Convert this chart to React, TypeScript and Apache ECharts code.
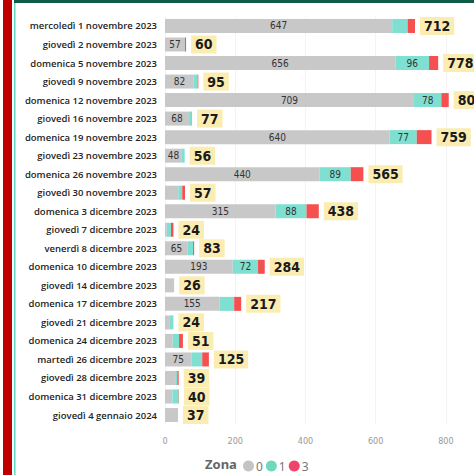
import React, { useEffect, useRef } from "react";
import * as echarts from "echarts";

const categories = [
  "mercoledì 1 novembre 2023",
  "giovedì 2 novembre 2023",
  "domenica 5 novembre 2023",
  "giovedì 9 novembre 2023",
  "domenica 12 novembre 2023",
  "giovedì 16 novembre 2023",
  "domenica 19 novembre 2023",
  "giovedì 23 novembre 2023",
  "domenica 26 novembre 2023",
  "giovedì 30 novembre 2023",
  "domenica 3 dicembre 2023",
  "giovedì 7 dicembre 2023",
  "venerdì 8 dicembre 2023",
  "domenica 10 dicembre 2023",
  "giovedì 14 dicembre 2023",
  "domenica 17 dicembre 2023",
  "giovedì 21 dicembre 2023",
  "domenica 24 dicembre 2023",
  "martedì 26 dicembre 2023",
  "giovedì 28 dicembre 2023",
  "domenica 31 dicembre 2023",
  "giovedì 4 gennaio 2024",
];
const zone0 = [647, 57, 656, 82, 709, 68, 640, 48, 440, 38, 315, 5, 65, 193, 26, 155, 12, 22, 75, 29, 21, 37];
const zone1 = [44, 0, 96, 11, 78, 8, 77, 8, 89, 11, 88, 12, 15, 72, 0, 42, 12, 18, 31, 6, 18, 0];
const zone3 = [21, 3, 26, 2, 21, 1, 42, 0, 36, 8, 35, 7, 3, 19, 0, 20, 0, 11, 19, 4, 1, 0];
const totals = [712, 60, 778, 95, 808, 77, 759, 56, 565, 57, 438, 24, 83, 284, 26, 217, 24, 51, 125, 39, 40, 37];
const xTicks = [0, 200, 400, 600, 800];
const seriesNames = ["0", "1", "3"];

export default function App() {
  const ref = useRef<HTMLDivElement>(null);
  useEffect(() => {
    if (!ref.current) return;
    const chart = echarts.init(ref.current, undefined, { renderer: "svg" });
    const inner = (min: number) => ({
      show: true,
      position: "inside" as const,
      color: "#333",
      fontSize: 10,
      fontWeight: 500,
      fontFamily: "Liberation Sans Narrow, DejaVu Sans Condensed, Roboto, sans-serif",
      formatter: (p: any) => (p.value >= min ? String(p.value) : ""),
    });
    const legendColors = ["#c4c4c4", "#6fd8bd", "#f04468"];
    chart.setOption({
      animation: false,
      grid: { left: 165, right: 0, top: 16.7, bottom: 50.7, containLabel: false },
      legend: {
        data: seriesNames.map((n, i) => ({ name: n, itemStyle: { color: legendColors[i] } })),
        left: 238,
        top: 455,
        icon: "circle",
        itemWidth: 11,
        itemHeight: 11,
        itemGap: 3,
        textStyle: { color: "#777", fontSize: 12, fontFamily: "Noto Sans, sans-serif", padding: [0, 0, 0, -3] },
      },
      xAxis: {
        type: "value",
        min: 0,
        max: 880,
        interval: 200,
        axisLabel: {
          color: "#999",
          fontSize: 9,
          fontFamily: "DejaVu Sans Condensed, Roboto, sans-serif",
          margin: 12,
          showMaxLabel: false,
          formatter: (v: number) => (xTicks.includes(v) ? String(v) : ""),
        },
        axisLine: { show: false },
        axisTick: { show: false },
        splitLine: { lineStyle: { color: "#f3f3f3", width: 1 } },
      },
      yAxis: {
        type: "category",
        data: categories,
        inverse: true,
        axisLine: { show: false },
        axisTick: { show: false },
        axisLabel: {
          color: "#252423",
          fontSize: 9.5,
          fontWeight: 600,
          fontFamily: "Open Sans, Noto Sans, sans-serif",
          margin: 8,
        },
      },
      series: [
        {
          name: "0",
          type: "bar",
          stack: "t",
          barWidth: 14,
          data: zone0,
          itemStyle: { color: "#c8c8c8" },
          label: inner(45),
        },
        {
          name: "1",
          type: "bar",
          stack: "t",
          barWidth: 14,
          data: zone1,
          itemStyle: { color: "#7fdfd0" },
          label: inner(60),
        },
        {
          name: "3",
          type: "bar",
          stack: "t",
          barWidth: 14,
          data: zone3,
          itemStyle: { color: "#f5504f" },
          label: {
            show: true,
            position: "right",
            distance: 5,
            color: "#1a1a1a",
            fontSize: 14,
            fontWeight: "bold",
            fontFamily: "Liberation Sans Narrow, DejaVu Sans Condensed, Roboto, sans-serif",
            backgroundColor: "#fbedb2",
            padding: [2, 4, 2, 4],
            formatter: (p: any) => String(totals[p.dataIndex]),
          },
        },
      ],
      graphic: [
        { type: "rect", shape: { x: 3, y: 0, width: 9, height: 475 }, style: { fill: "#c00000" } },
        { type: "rect", shape: { x: 14, y: 0, width: 1.5, height: 475 }, style: { fill: "#5fd8c2" } },
        { type: "rect", shape: { x: 14, y: 0, width: 460, height: 3 }, style: { fill: "#0d5a48" } },
        {
          type: "text",
          left: 205,
          top: 457,
          style: { text: "Zona", fill: "#666", fontSize: 13, fontWeight: "bold", fontFamily: "Noto Sans, sans-serif" },
        },
      ],
    });
    return () => chart.dispose();
  }, []);
  return <div ref={ref} style={{ position: "absolute", left: 0, top: 0, width: 474, height: 475 }} />;
}
